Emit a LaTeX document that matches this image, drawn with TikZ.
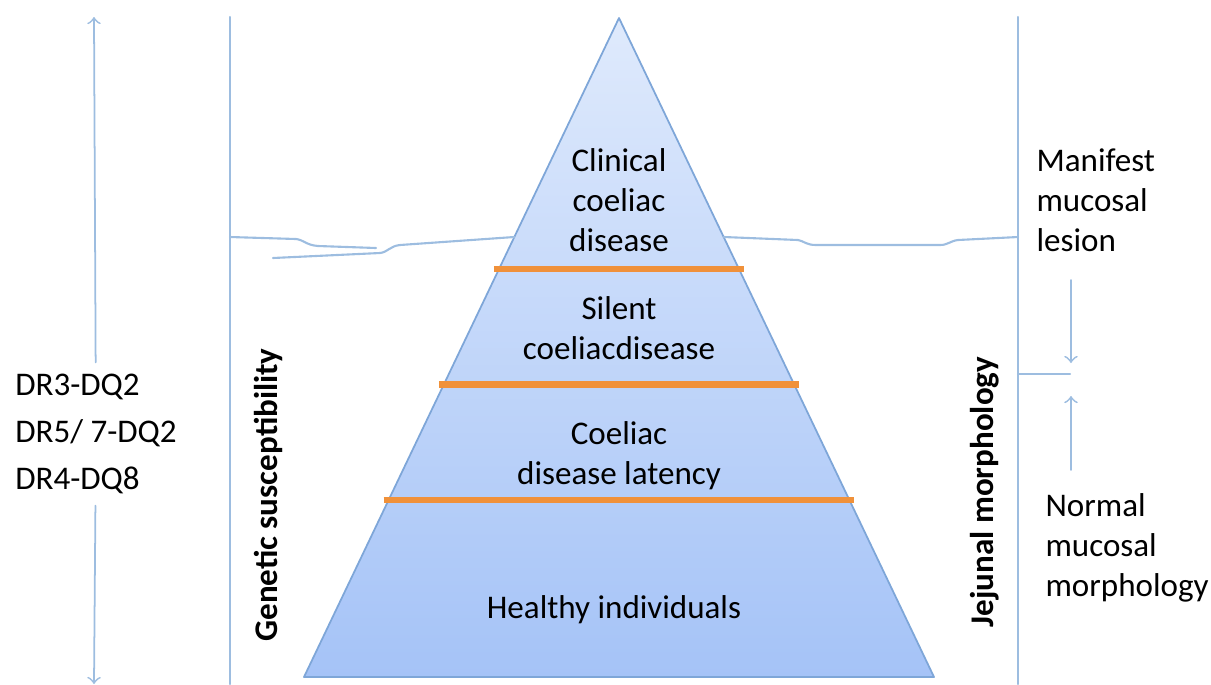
\documentclass[tikz,border=0pt]{standalone}
\usepackage{fontspec}
\setmainfont{Carlito}
\usetikzlibrary{arrows,calc}
\definecolor{guideblue}{HTML}{9DBDE0}
\definecolor{edgeblue}{HTML}{7EA6D8}
\definecolor{bandorange}{HTML}{F0913A}
\definecolor{toptone}{HTML}{DFEAFC}
\definecolor{basetone}{HTML}{A5C3F7}

\begin{document}
\begin{tikzpicture}[x=0.01cm, y=-0.01cm, line cap=round,
         semithick]
  \tikzstyle{guide}=[draw=guideblue, line width=0.6pt]
  \tikzstyle{band}=[draw=bandorange, line width=1.8pt]
  \tikzstyle{txt}=[align=center, inner sep=1pt, font=\fontsize{9.4}{11.4}\selectfont]
  \tikzstyle{side}=[txt, align=left]
  \tikzstyle{axis}=[txt, rotate=90, font=\fontsize{9.4}{11.4}\selectfont\bfseries]
\useasboundingbox (0,0) rectangle (1211,684);
% pyramid
\coordinate (apex) at (619,18);
\coordinate (bl) at (304,677);
\coordinate (br) at (934,677);
\shade[top color=toptone, bottom color=basetone] (apex) -- (bl) -- (br) -- cycle;
\draw[edgeblue, line width=0.5pt, line join=round] (apex) -- (bl) -- (br) -- cycle;
\foreach \t in {0.381,0.556,0.731}
  \draw[band, line cap=butt] ($(apex)!\t!(bl)+(-5,0)$) -- ($(apex)!\t!(br)+(5,0)$);
% frame lines
\coordinate (gtop) at (230,17);
\coordinate (gbot) at (230,684);
\coordinate (jtop) at (1018,17);
\coordinate (jbot) at (1018,684);
\draw[guide] (gtop) -- (gbot);
\draw[guide] (jtop) -- (jbot);
% water line
\coordinate (wl) at (230,237);
\coordinate (wpl) at ($(apex)!0.3323!(bl)$);
\coordinate (wpr) at ($(apex)!0.3323!(br)$);
\coordinate (wr) at (1018,237);
\draw[guide] (wl) -- (296,239) .. controls (304,240) and (306,245) .. (318,246) -- (376,248);
\draw[guide] (273,258) -- (380,253) .. controls (388,252) and (390,246) .. (400,245) -- (wpl);
\draw[guide] (wpr) -- (798,240) .. controls (804,241) and (806,245) .. (816,245)
  -- (940,245) .. controls (948,245) and (950,241) .. (958,240) -- (wr);
% texts
\node[txt] (clin) at (619,200) {Clinical\\coeliac\\disease};
\node[txt] (silent) at (619,328) {Silent\\coeliacdisease};
\node[txt] (latent) at (619,456) {Coeliac\\disease latency};
\node[txt] (healthy) at (614,610) {Healthy individuals};
\node[axis] (gen) at (268,495) {Genetic susceptibility};
\node[axis] (jej) at (985,492) {Jejunal morphology};
\node[side, font=\fontsize{9.4}{13.4}\selectfont, fill=white, inner sep=3pt] (hla) at (96,434) {DR3-DQ2\\DR5/ 7-DQ2\\DR4-DQ8};
\node[side] (manif) at (1032,200) [anchor=west] {Manifest\\mucosal\\lesion};
\node[side] (normal) at (1041,548) [anchor=west] {Normal\\mucosal\\morphology};
% arrows
\coordinate (htop) at (94,17);
\coordinate (hbot) at (94,684);
\coordinate (mfrom) at (1071,280);
\coordinate (mto) at (1071,363);
\coordinate (nfrom) at (1071,470);
\coordinate (nto) at (1071,396);
\coordinate (tick) at (1070,374);
\path[guide, line width=0.5pt]
(hla) edge [->] (htop)
(hla) edge [->] (hbot)
(mfrom) edge [->] (mto)
(nfrom) edge [->] (nto);
\draw[guide] (tick -| jtop) -- (tick);
\end{tikzpicture}
\end{document}
